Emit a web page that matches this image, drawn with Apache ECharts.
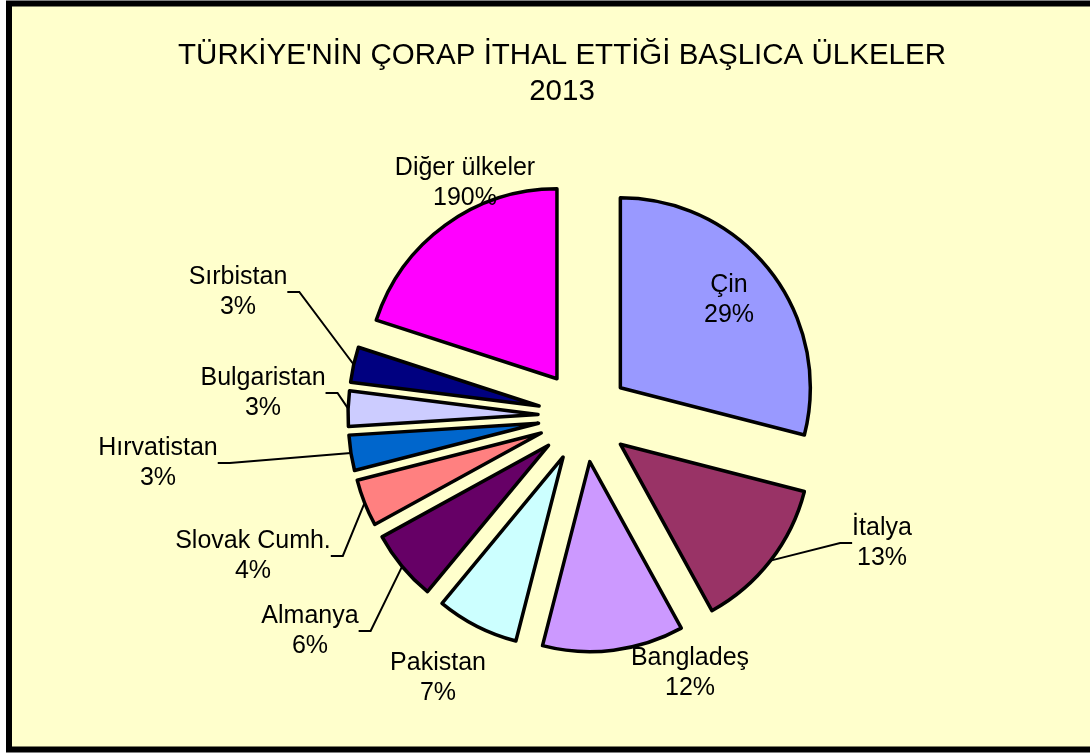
<!DOCTYPE html>
<html>
<head>
<meta charset="utf-8">
<script src="https://cdn.jsdelivr.net/npm/echarts@6/dist/echarts.min.js"></script>
<style>
  html, body { margin: 0; padding: 0; background: #fff; }
  #chart { width: 1090px; height: 753px; }
</style>
</head>
<body>
<div id="chart"></div>
<script>
// slices, clockwise from 12 o'clock
const countries = ['Çin', 'İtalya', 'Bangladeş', 'Pakistan', 'Almanya', 'Slovak Cumh.', 'Hırvatistan', 'Bulgaristan', 'Sırbistan', 'Diğer ülkeler'];
const shares = [29, 13, 12, 7, 6, 4, 3, 3, 3, 20];
const shareLabels = ['29%', '13%', '12%', '7%', '6%', '4%', '3%', '3%', '3%', '190%'];
const colors = ['#9999FF', '#993366', '#CC99FF', '#CCFFFF', '#660066', '#FF8080', '#0066CC', '#CCCCFF', '#000080', '#FF00FF'];

// where each label block is centred (Excel placed them by hand)
const labelPos = [
    [729, 300], [882, 543], [690, 673], [438, 678], [310, 631],
    [253, 556], [158, 463], [263, 393], [238, 292], [465, 183]
];
const noLine = ['Çin', 'Bangladeş', 'Pakistan', 'Diğer ülkeler'];

const pieCenter = [584, 416];
const pieRadius = 190;
const explode = 46;

const total = shares.reduce((a, b) => a + b, 0);

// every slice is pulled out along its own middle angle: one pie per slice,
// the other slices of that pie are left invisible
let cum = 0;
const series = countries.map((name, i) => {
    const mid = (cum + shares[i] / 2) / total * Math.PI * 2;
    cum += shares[i];
    return {
        type: 'pie',
        center: [pieCenter[0] + explode * Math.sin(mid), pieCenter[1] - explode * Math.cos(mid)],
        radius: pieRadius,
        startAngle: 90,
        clockwise: true,
        avoidLabelOverlap: false,
        emphasis: { disabled: true },
        label: {
            position: 'outside',
            fontFamily: 'Liberation Sans',
            fontSize: 25,
            lineHeight: 30,
            color: '#000',
            formatter: p => p.name + '\n' + shareLabels[p.dataIndex]
        },
        labelLine: {
            length: 10,
            length2: 12,
            lineStyle: { color: '#000', width: 2 }
        },
        labelLayout: p => ({
            x: labelPos[p.dataIndex][0],
            y: labelPos[p.dataIndex][1],
            align: 'center',
            verticalAlign: 'middle'
        }),
        data: countries.map((c, j) => ({
            name: c,
            value: shares[j],
            itemStyle: j === i
                ? { color: colors[j], borderColor: '#000', borderWidth: 3.5 }
                : { color: 'rgba(0,0,0,0)', borderWidth: 0 },
            label: { show: j === i },
            labelLine: { show: j === i && noLine.indexOf(c) < 0 }
        }))
    };
});

const chart = echarts.init(document.getElementById('chart'));

chart.setOption({
    backgroundColor: '#fff',
    animation: false,
    title: {
        text: "TÜRKİYE'NİN ÇORAP İTHAL ETTİĞİ BAŞLICA ÜLKELER\n2013",
        left: 557,
        textAlign: 'center',
        top: 33,
        textStyle: {
            fontFamily: 'Liberation Sans',
            fontWeight: 'normal',
            fontSize: 29.5,
            color: '#000',
            lineHeight: 36
        }
    },
    graphic: [{
        type: 'rect',
        z: -1,
        shape: { x: 9, y: 3.5, width: 1100, height: 746 },
        style: { fill: '#FFFFCC', stroke: '#000', lineWidth: 6 }
    }],
    series: series
});
</script>
</body>
</html>
